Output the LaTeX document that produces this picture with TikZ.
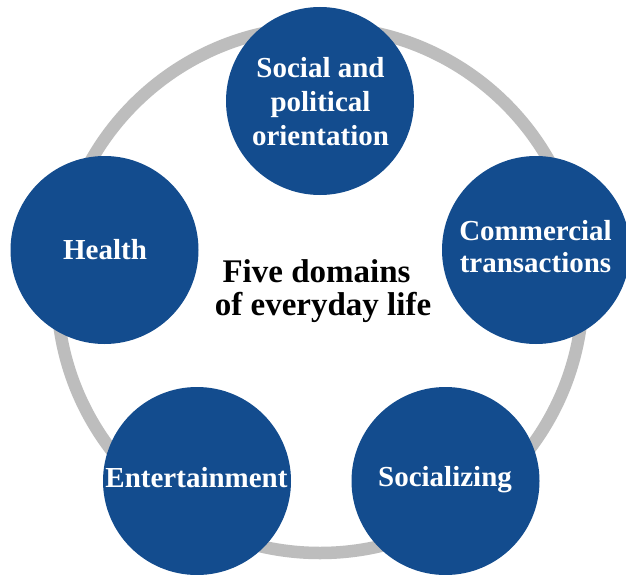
\documentclass[tikz,border=0pt]{standalone}
\usepackage{fontspec}
\setmainfont{Liberation Serif}
\definecolor{domainblue}{RGB}{19,76,142}
\definecolor{ringgray}{RGB}{189,189,189}
\tikzset{
  domcircle/.style={circle, fill=domainblue, draw=none, minimum size=188pt, inner sep=0pt},
  domtext/.style={anchor=base, text=white, inner sep=0pt, font=\fontsize{29}{33}\selectfont\bfseries},
  centertext/.style={anchor=base, text=black, inner sep=0pt, font=\fontsize{33}{33}\selectfont\bfseries},
  ringline/.style={draw=ringgray, line width=12.5pt}
}
\begin{document}
\begin{tikzpicture}[x=1pt,y=-1pt]
\useasboundingbox (0,0) rectangle (626,575);
\fill[white] (0,0) rectangle (626,575);
\coordinate (ringc) at (320,290);
\draw[ringline] (ringc) circle[radius=263];
\node[domcircle] (social) at (320,101) {};
\node[domcircle] (health) at (104.5,250) {};
\node[domcircle] (commerce) at (536,250) {};
\node[domcircle] (entertain) at (197,481) {};
\node[domcircle] (socializing) at (445.5,481) {};
\node[domtext] (s1) at (320.5,78) {Social and};
\node[domtext] (s2) at (320.5,112) {political};
\node[domtext] (s3) at (320.5,145) {orientation};
\node[domtext] (h1) at (105,259) {Health};
\node[domtext] (c1) at (535.5,240) {Commercial};
\node[domtext] (c2) at (535.5,272) {transactions};
\node[domtext] (e1) at (196.5,487) {Entertainment};
\node[domtext] (z1) at (445,486) {Socializing};
\node[centertext] (f1) at (316.5,282) {Five domains};
\node[centertext] (f2) at (323,315) {of everyday life};
\end{tikzpicture}
\end{document}
